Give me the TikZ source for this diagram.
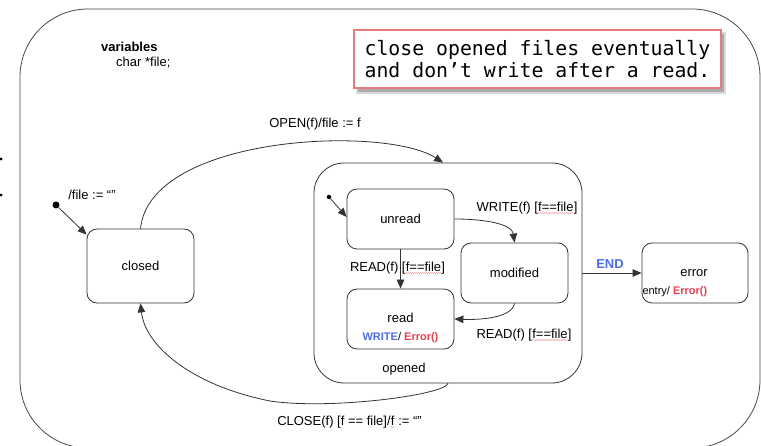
\documentclass[tikz,border=0pt]{standalone}
\usepackage{fontspec}
\setmainfont{Liberation Sans}
\setmonofont{DejaVu Sans Mono}
\usetikzlibrary{arrows.meta,decorations.pathmorphing}

\definecolor{evblue}{HTML}{4C6EF0}
\definecolor{evred}{HTML}{E8414F}
\definecolor{notered}{HTML}{E57B7B}
\definecolor{edgegray}{HTML}{333333}

\newcommand\labfont{\fontsize{13}{15}\selectfont}
\newcommand\actfont{\fontsize{11}{13}\selectfont}
% spell-checker squiggle under a word
\newcommand\spell[1]{\tikz[baseline=(w.base)]{\node[inner sep=0pt,outer sep=0pt](w){#1};\draw[evred!80,line width=0.35pt,decorate,decoration={snake,amplitude=0.45pt,segment length=2pt}] ([yshift=-1.7pt]w.base west) -- ([yshift=-1.7pt]w.base east);}}

\begin{document}
\begin{tikzpicture}[x=1pt,y=-1pt,
  every node/.style={font=\labfont, inner sep=0pt},
  statebox/.style={draw=edgegray, line width=0.8pt, rounded corners=10pt},
  trans/.style={draw=edgegray, line width=0.8pt, -{Triangle[length=9pt,width=7.5pt]}},
  initdot/.style={circle, fill=black, minimum size=7pt},
  smalldot/.style={circle, fill=black, minimum size=4.5pt}]

\useasboundingbox (0,0) rectangle (761,446);

% slide bullets at the left edge
\fill (1,159) circle (1.6);
\fill (1,195) circle (1.6);

% outer machine frame
\draw[draw=edgegray!90, line width=0.8pt, rounded corners=68pt] (20,9) rectangle (760,448);

% variables
\node[anchor=west, font=\labfont\bfseries] (vars) at (101,47) {variables};
\node[anchor=west] (vardecl) at (116,63) {char *file;};

% property note with a soft drop shadow
\fill[black!25, opacity=0.6] (356,32) rectangle (726,94);
\fill[black!40, opacity=0.7] (358,34) rectangle (724,92);
\node[draw=notered, line width=1.6pt, fill=white, minimum width=367pt, minimum height=58pt,
      align=left, font=\ttfamily\fontsize{19.8}{22}\selectfont] (note) at (537.5,59)
  {close opened files eventually\\and don’t write after a read.};

% states
\node[statebox, minimum width=107pt, minimum height=74pt] (closed) at (140.5,266) {closed};
\node[draw=edgegray, line width=0.8pt, rounded corners=30pt, minimum width=268pt, minimum height=220pt] (opened) at (448,273) {};
\node (openedlbl) at (404,369) {opened};
\node[statebox, minimum width=107pt, minimum height=60pt] (unread) at (400.5,219) {unread};
\node[statebox, minimum width=107pt, minimum height=60pt] (modified) at (514.5,273) {modified};
\node[statebox, minimum width=107pt, minimum height=60pt] (read) at (400.5,319) {};
\node (readlbl) at (400.5,318) {read};
\node[font=\actfont] (readact) at (400.5,338) {\textcolor{evblue}{\bfseries WRITE}/ \textcolor{evred}{\bfseries Error()}};
\node[statebox, minimum width=106pt, minimum height=60pt] (error) at (695,273) {};
\node (errorlbl) at (694,273) {error};
\node[anchor=west, font=\actfont] (erroract) at (642.3,292) {entry/ \textcolor{evred}{\bfseries Error()}};

% initial pseudo-states
\node[initdot] (init) at (56,205) {};
\node[smalldot] (initin) at (329,197) {};
\draw[trans] (init) -- ([yshift=-6pt]closed.north west);
\draw[trans] (initin) -- ([yshift=2pt]unread.west);
\node (initlbl) at (92,195) {/file := “”};

% transitions
\draw[trans] (closed.north) .. controls (150,135) and (385,125) .. ([xshift=-5pt]opened.north);
\node (openlbl) at (315,124) {OPEN(f)/file := f};

\draw[trans] (opened.south) .. controls (445,395) and (330,410) .. (270,401)
  .. controls (190,385) and (145,345) .. (closed.south);
\node (closelbl) at (349.5,422) {CLOSE(f) [f == file]/\spell{f} := “”};

\draw[trans] (unread.south) -- (read.north);
\node (rd1lbl) at (397.5,268) {READ(f) [\spell{f==file}]};

\draw[trans] (unread.east) .. controls (485,219) and (512,224) .. (modified.north);
\node (wrlbl) at (527,208) {WRITE(f) [\spell{f==file}]};

\draw[trans] (modified.south) .. controls (512,318) and (480,320) .. (read.east);
\node (rd2lbl) at (524,335) {READ(f) [\spell{f==file}]};

\draw[trans] (opened.east) -- (error.west);
\node[text=evblue, font=\labfont\bfseries] (endlbl) at (610,264) {END};

\end{tikzpicture}
\end{document}
